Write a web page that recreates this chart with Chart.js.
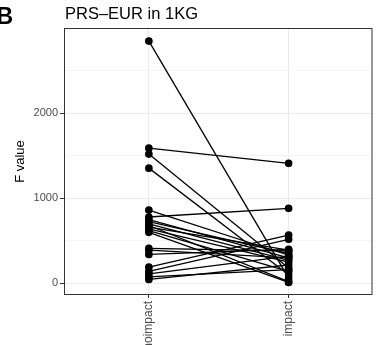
<!DOCTYPE html>
<html>
<head>
<meta charset="utf-8">
<script src="https://cdn.jsdelivr.net/npm/chart.js@4"></script>
<style>
  body { margin: 0; background: #fff; }
  canvas { display: block; }
</style>
</head>
<body>
<canvas id="chart" width="377" height="345"></canvas>
<script>
const groups = ["noimpact", "impact"];
// paired F values, one entry per test: noimpact[i] -> impact[i]
const noimpact = [2850, 1590, 1520, 1355, 862, 780, 750, 725, 700, 680, 660, 640, 620, 600, 410, 390, 340, 190, 140, 110, 75, 45];
const impact   = [60, 1412, 180, 100, 330, 882, 300, 350, 270, 20, 390, 250, 140, 10, 380, 300, 400, 568, 518, 320, 160, 215];
const yTicks = [0, 500, 1000, 1500, 2000, 2500];

Chart.defaults.font.family = '"Liberation Sans", Arial, sans-serif';

const datasets = noimpact.map((v, i) => ({
  data: [{ x: 0, y: v }, { x: 1, y: impact[i] }],
  borderColor: "#000",
  backgroundColor: "#000",
  borderWidth: 1.3,
  pointRadius: 3.2,
  pointHoverRadius: 3.2
}));

// panel border, title and panel letter
const panelDecor = {
  id: "panelDecor",
  afterDraw(chart) {
    const ctx = chart.ctx;
    const a = chart.chartArea;
    ctx.save();
    ctx.strokeStyle = "#333";
    ctx.lineWidth = 1;
    ctx.strokeRect(a.left - 0.5, a.top - 0.5, a.right - a.left, a.bottom - a.top + 1);

    ctx.fillStyle = "#000";
    ctx.textBaseline = "alphabetic";
    ctx.textAlign = "left";
    ctx.font = '16.5px "Liberation Sans", Arial, sans-serif';
    ctx.fillText("PRS\u2013EUR in 1KG", 65, 19);
    ctx.font = 'bold 23px "Liberation Sans", Arial, sans-serif';
    ctx.fillText("B", -3.5, 23.5);
    ctx.restore();
  }
};

new Chart(document.getElementById("chart"), {
  type: "line",
  data: { datasets },
  plugins: [panelDecor],
  options: {
    responsive: false,
    animation: false,
    devicePixelRatio: 1,
    layout: { padding: { top: 29, right: 2, left: 0, bottom: 0 } },
    plugins: { legend: { display: false }, tooltip: { enabled: false } },
    scales: {
      x: {
        type: "linear",
        min: -0.6,
        max: 1.6,
        afterBuildTicks: s => { s.ticks = [{ value: 0 }, { value: 1 }]; },
        afterFit: s => { s.height = 51; },
        ticks: {
          callback: v => groups[v],
          minRotation: 90,
          maxRotation: 90,
          autoSkip: false,
          color: "#4d4d4d",
          font: { size: 12 },
          padding: 3
        },
        grid: { color: "#ebebeb", tickColor: "#333", tickLength: 4 },
        border: { display: false }
      },
      y: {
        min: -126,
        max: 2992,
        afterBuildTicks: s => { s.ticks = yTicks.map(v => ({ value: v })); },
        afterFit: s => { s.width = 65; },
        ticks: {
          callback: v => (v % 1000 === 0 ? v : ""),
          color: "#4d4d4d",
          font: { size: 11 },
          padding: 2
        },
        grid: {
          color: c => (c.tick && c.tick.value % 1000 === 0 ? "#ebebeb" : "#f5f5f5"),
          tickColor: c => (c.tick && c.tick.value % 1000 === 0 ? "#333" : "rgba(0,0,0,0)"),
          tickLength: 5
        },
        border: { display: false },
        title: {
          display: true,
          text: "F value",
          color: "#000",
          font: { size: 13 },
          padding: { top: 13 }
        }
      }
    }
  }
});
</script>
</body>
</html>
